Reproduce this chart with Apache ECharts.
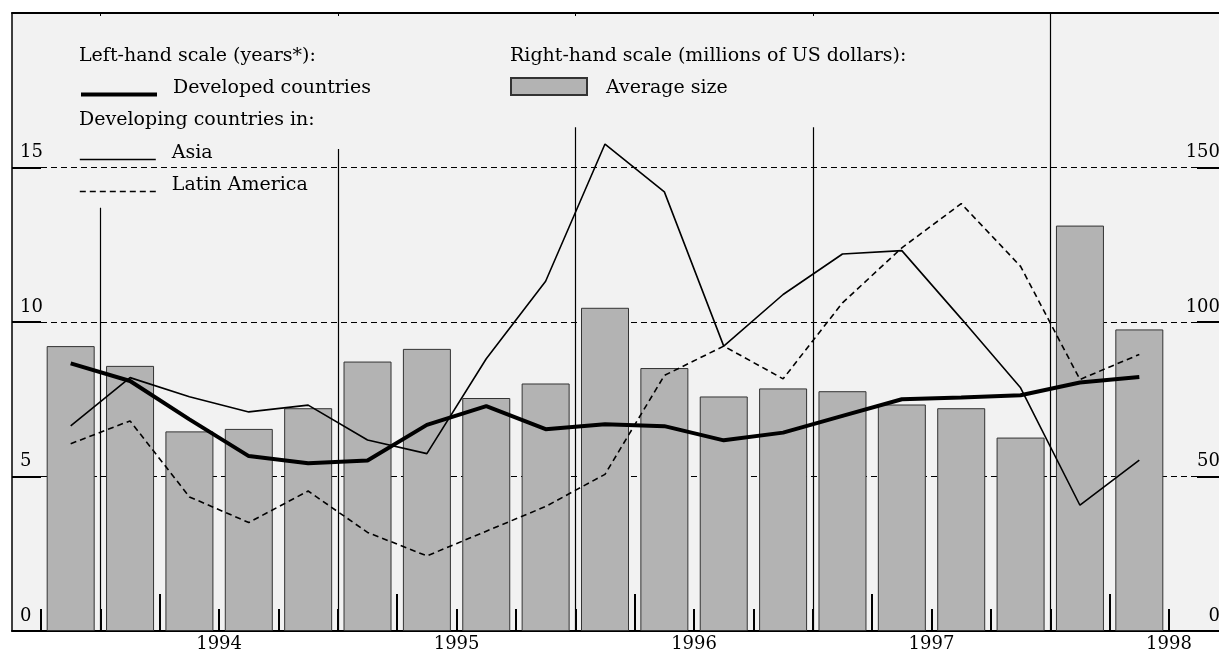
<!DOCTYPE html>
<html>
<head>
<meta charset="utf-8">
<script src="https://cdn.jsdelivr.net/npm/echarts/dist/echarts.min.js"></script>
<style>
  html, body { margin: 0; padding: 0; background: #fff; }
  #chart { width: 1219px; height: 653px; }
</style>
</head>
<body>
<div id="chart"></div>
<script>
// quarterly data, 1993 Q4 .. 1998 Q2
const quarters = ['1993 Q4', '1994 Q1', '1994 Q2', '1994 Q3', '1994 Q4', '1995 Q1', '1995 Q2', '1995 Q3', '1995 Q4',
  '1996 Q1', '1996 Q2', '1996 Q3', '1996 Q4', '1997 Q1', '1997 Q2', '1997 Q3', '1997 Q4', '1998 Q1', '1998 Q2'];
// tick marks sit on the quarter boundaries (start of each quarter)
const boundaries = quarters.concat(['1998 Q3']);
const yearLabels = { '1994 Q3': '1994', '1995 Q3': '1995', '1996 Q3': '1996', '1997 Q3': '1997', '1998 Q3': '1998' };

// left-hand scale (years)
const developed = [8.66, 8.09, 6.85, 5.66, 5.43, 5.52, 6.67, 7.28, 6.53, 6.69, 6.63, 6.17, 6.42, 6.96, 7.50, 7.56, 7.63, 8.04, 8.22];
const asia = [6.64, 8.20, 7.58, 7.09, 7.31, 6.18, 5.74, 8.81, 11.32, 15.76, 14.21, 9.22, 10.89, 12.20, 12.31, 10.11, 7.87, 4.07, 5.53];
const latinAmerica = [6.06, 6.80, 4.34, 3.51, 4.53, 3.19, 2.43, 3.23, 4.03, 5.07, 8.27, 9.22, 8.16, 10.62, 12.40, 13.83, 11.80, 8.14, 8.95];
// right-hand scale (millions of US dollars)
const averageSize = [92.2, 85.8, 64.6, 65.4, 72.1, 87.2, 91.3, 75.4, 80.1, 104.6, 85.1, 75.9, 78.5, 77.6, 73.3, 72.1, 62.6, 131.2, 97.6];

// year separators: boundary where the line sits, and where it starts (left scale)
const yearLineAt = ['1994 Q1', '1995 Q1', '1996 Q1', '1997 Q1', '1998 Q1'];
const yearLineTop = [13.7, 15.6, 16.3, 16.3, 20];

const FONT = 'DejaVu Serif';
const hidden = { show: false };
const noLine = { show: false, onZero: false };

// legend text sits a little above the line sample (sample on the baseline)
function lineLegend(name, top, width, type) {
  return {
    data: [name], left: 79, top: top, padding: 0, itemWidth: 76, itemHeight: 14,
    itemStyle: { opacity: 0 },
    lineStyle: { width: width, type: type, color: '#000' },
    formatter: '{a|{name}}',
    textStyle: { rich: { a: { fontSize: 19, fontFamily: FONT, color: '#000', padding: [0, 0, 12, 11] } } },
  };
}

let myChart = echarts.init(document.getElementById('chart'));
let option = {
  animation: false,
  backgroundColor: '#fff',
  textStyle: { fontFamily: FONT, color: '#000' },
  grid: [
    // frame / background
    { left: 12, right: 0, top: 13, bottom: 22, show: true, backgroundColor: '#f2f2f2', borderWidth: 0, z: -1,
      outerBoundsMode: 'none' },
    // scales and dashed grid lines
    { left: 41, right: 22, top: 13, bottom: 22, outerBoundsMode: 'none' },
    // data
    { left: 41, right: 50, top: 13, bottom: 22, outerBoundsMode: 'none' },
  ],
  xAxis: [
    { gridIndex: 0, type: 'value', min: 0, max: 1, position: 'bottom',
      axisLine: { show: true, onZero: false, lineStyle: { color: '#000', width: 2 } },
      axisTick: hidden, axisLabel: hidden, splitLine: hidden },
    { gridIndex: 0, type: 'value', min: 0, max: 1, position: 'top',
      axisLine: { show: true, onZero: false, lineStyle: { color: '#000', width: 2 } },
      axisTick: hidden, axisLabel: hidden, splitLine: hidden },
    { gridIndex: 1, type: 'value', min: 0, max: 1, show: false },
    { gridIndex: 2, type: 'category', data: quarters, position: 'bottom', show: false },
    // short ticks + year labels
    { gridIndex: 2, type: 'category', data: boundaries, boundaryGap: false, position: 'bottom',
      axisLine: noLine,
      axisTick: { show: true, inside: true, length: 22, interval: 0, lineStyle: { color: '#000', width: 2 } },
      axisLabel: { interval: 0, margin: 4, fontSize: 18, fontFamily: FONT, color: '#000',
        formatter: (v) => yearLabels[v] || '' },
      splitLine: hidden },
    // tall ticks
    { gridIndex: 2, type: 'category', data: boundaries, boundaryGap: false, position: 'bottom',
      axisLine: noLine,
      axisTick: { show: true, inside: true, length: 37, interval: (i, v) => v.endsWith('Q2'), lineStyle: { color: '#000', width: 2 } },
      axisLabel: hidden, splitLine: hidden },
    // small ticks on the top border
    { gridIndex: 2, type: 'category', data: boundaries, boundaryGap: false, position: 'top',
      axisLine: noLine,
      axisTick: { show: true, inside: true, length: 3, interval: (i, v) => yearLineAt.includes(v), lineStyle: { color: '#000', width: 1 } },
      axisLabel: hidden, splitLine: hidden },
  ],
  yAxis: [
    { gridIndex: 0, type: 'value', min: 0, max: 1, position: 'left',
      axisLine: { show: true, onZero: false, lineStyle: { color: '#000', width: 1.5 } },
      axisTick: hidden, axisLabel: hidden, splitLine: hidden },
    { gridIndex: 1, type: 'value', min: 0, max: 20, interval: 5, position: 'left',
      axisLine: noLine,
      axisTick: { show: true, length: 29, lineStyle: { color: '#000', width: 2 } },
      axisLabel: { showMaxLabel: false, align: 'left', verticalAlign: 'bottom', margin: 21,
        padding: [0, 0, 6, 0], fontSize: 18, fontFamily: FONT, color: '#000' },
      splitLine: { show: true, lineStyle: { color: '#000', width: 1, type: [6, 4] } } },
    { gridIndex: 1, type: 'value', min: 0, max: 200, interval: 50, position: 'right',
      axisLine: noLine,
      axisTick: { show: true, length: 22, lineStyle: { color: '#000', width: 2 } },
      axisLabel: { showMaxLabel: false, align: 'right', verticalAlign: 'bottom', margin: 23,
        padding: [0, 0, 6, 0], fontSize: 18, fontFamily: FONT, color: '#000' },
      splitLine: hidden },
    { gridIndex: 2, type: 'value', min: 0, max: 20, show: false },
    { gridIndex: 2, type: 'value', min: 0, max: 200, show: false },
  ],
  legend: [
    lineLegend('Developed countries', 79, 4, 'solid'),
    lineLegend('Asia', 144, 1.6, 'solid'),
    lineLegend('Latin America', 176, 1.6, [6, 4]),
    { data: ['Average size'], left: 510, top: 77, padding: 0, itemWidth: 76, itemHeight: 17, icon: 'rect',
      formatter: '{a|{name}}',
      textStyle: { rich: { a: { fontSize: 19, fontFamily: FONT, color: '#000', padding: [4, 0, 0, 14] } } } },
  ],
  graphic: [
    { type: 'text', left: 79, top: 47, style: { text: 'Left-hand scale (years*):', font: '19px "DejaVu Serif"', fill: '#000' } },
    { type: 'text', left: 79, top: 111, style: { text: 'Developing countries in:', font: '19px "DejaVu Serif"', fill: '#000' } },
    { type: 'text', left: 510, top: 47, style: { text: 'Right-hand scale (millions of US dollars):', font: '19px "DejaVu Serif"', fill: '#000' } },
  ],
  series: [
    {
      name: 'Average size', type: 'bar', xAxisIndex: 3, yAxisIndex: 4, data: averageSize, barWidth: 48,
      itemStyle: { color: '#b3b3b3', borderColor: '#333', borderWidth: 1 },
    },
    {
      name: 'Developed countries', type: 'line', xAxisIndex: 3, yAxisIndex: 3, data: developed,
      symbol: 'none', lineStyle: { color: '#000', width: 4 }, itemStyle: { color: '#000' },
    },
    {
      name: 'Asia', type: 'line', xAxisIndex: 3, yAxisIndex: 3, data: asia,
      symbol: 'none', lineStyle: { color: '#000', width: 1.6 }, itemStyle: { color: '#000' },
    },
    {
      name: 'Latin America', type: 'line', xAxisIndex: 3, yAxisIndex: 3, data: latinAmerica,
      symbol: 'none', lineStyle: { color: '#000', width: 1.6, type: [6, 4] }, itemStyle: { color: '#000' },
    },
    {
      // year separators
      type: 'line', xAxisIndex: 4, yAxisIndex: 3, data: [], silent: true,
      markLine: {
        silent: true, symbol: 'none', label: { show: false },
        lineStyle: { color: '#000', width: 1.2, type: 'solid' },
        data: yearLineAt.map((b, i) => [{ xAxis: b, yAxis: yearLineTop[i] }, { xAxis: b, yAxis: 0 }]),
      },
    },
  ],
};
myChart.setOption(option);
</script>
</body>
</html>
